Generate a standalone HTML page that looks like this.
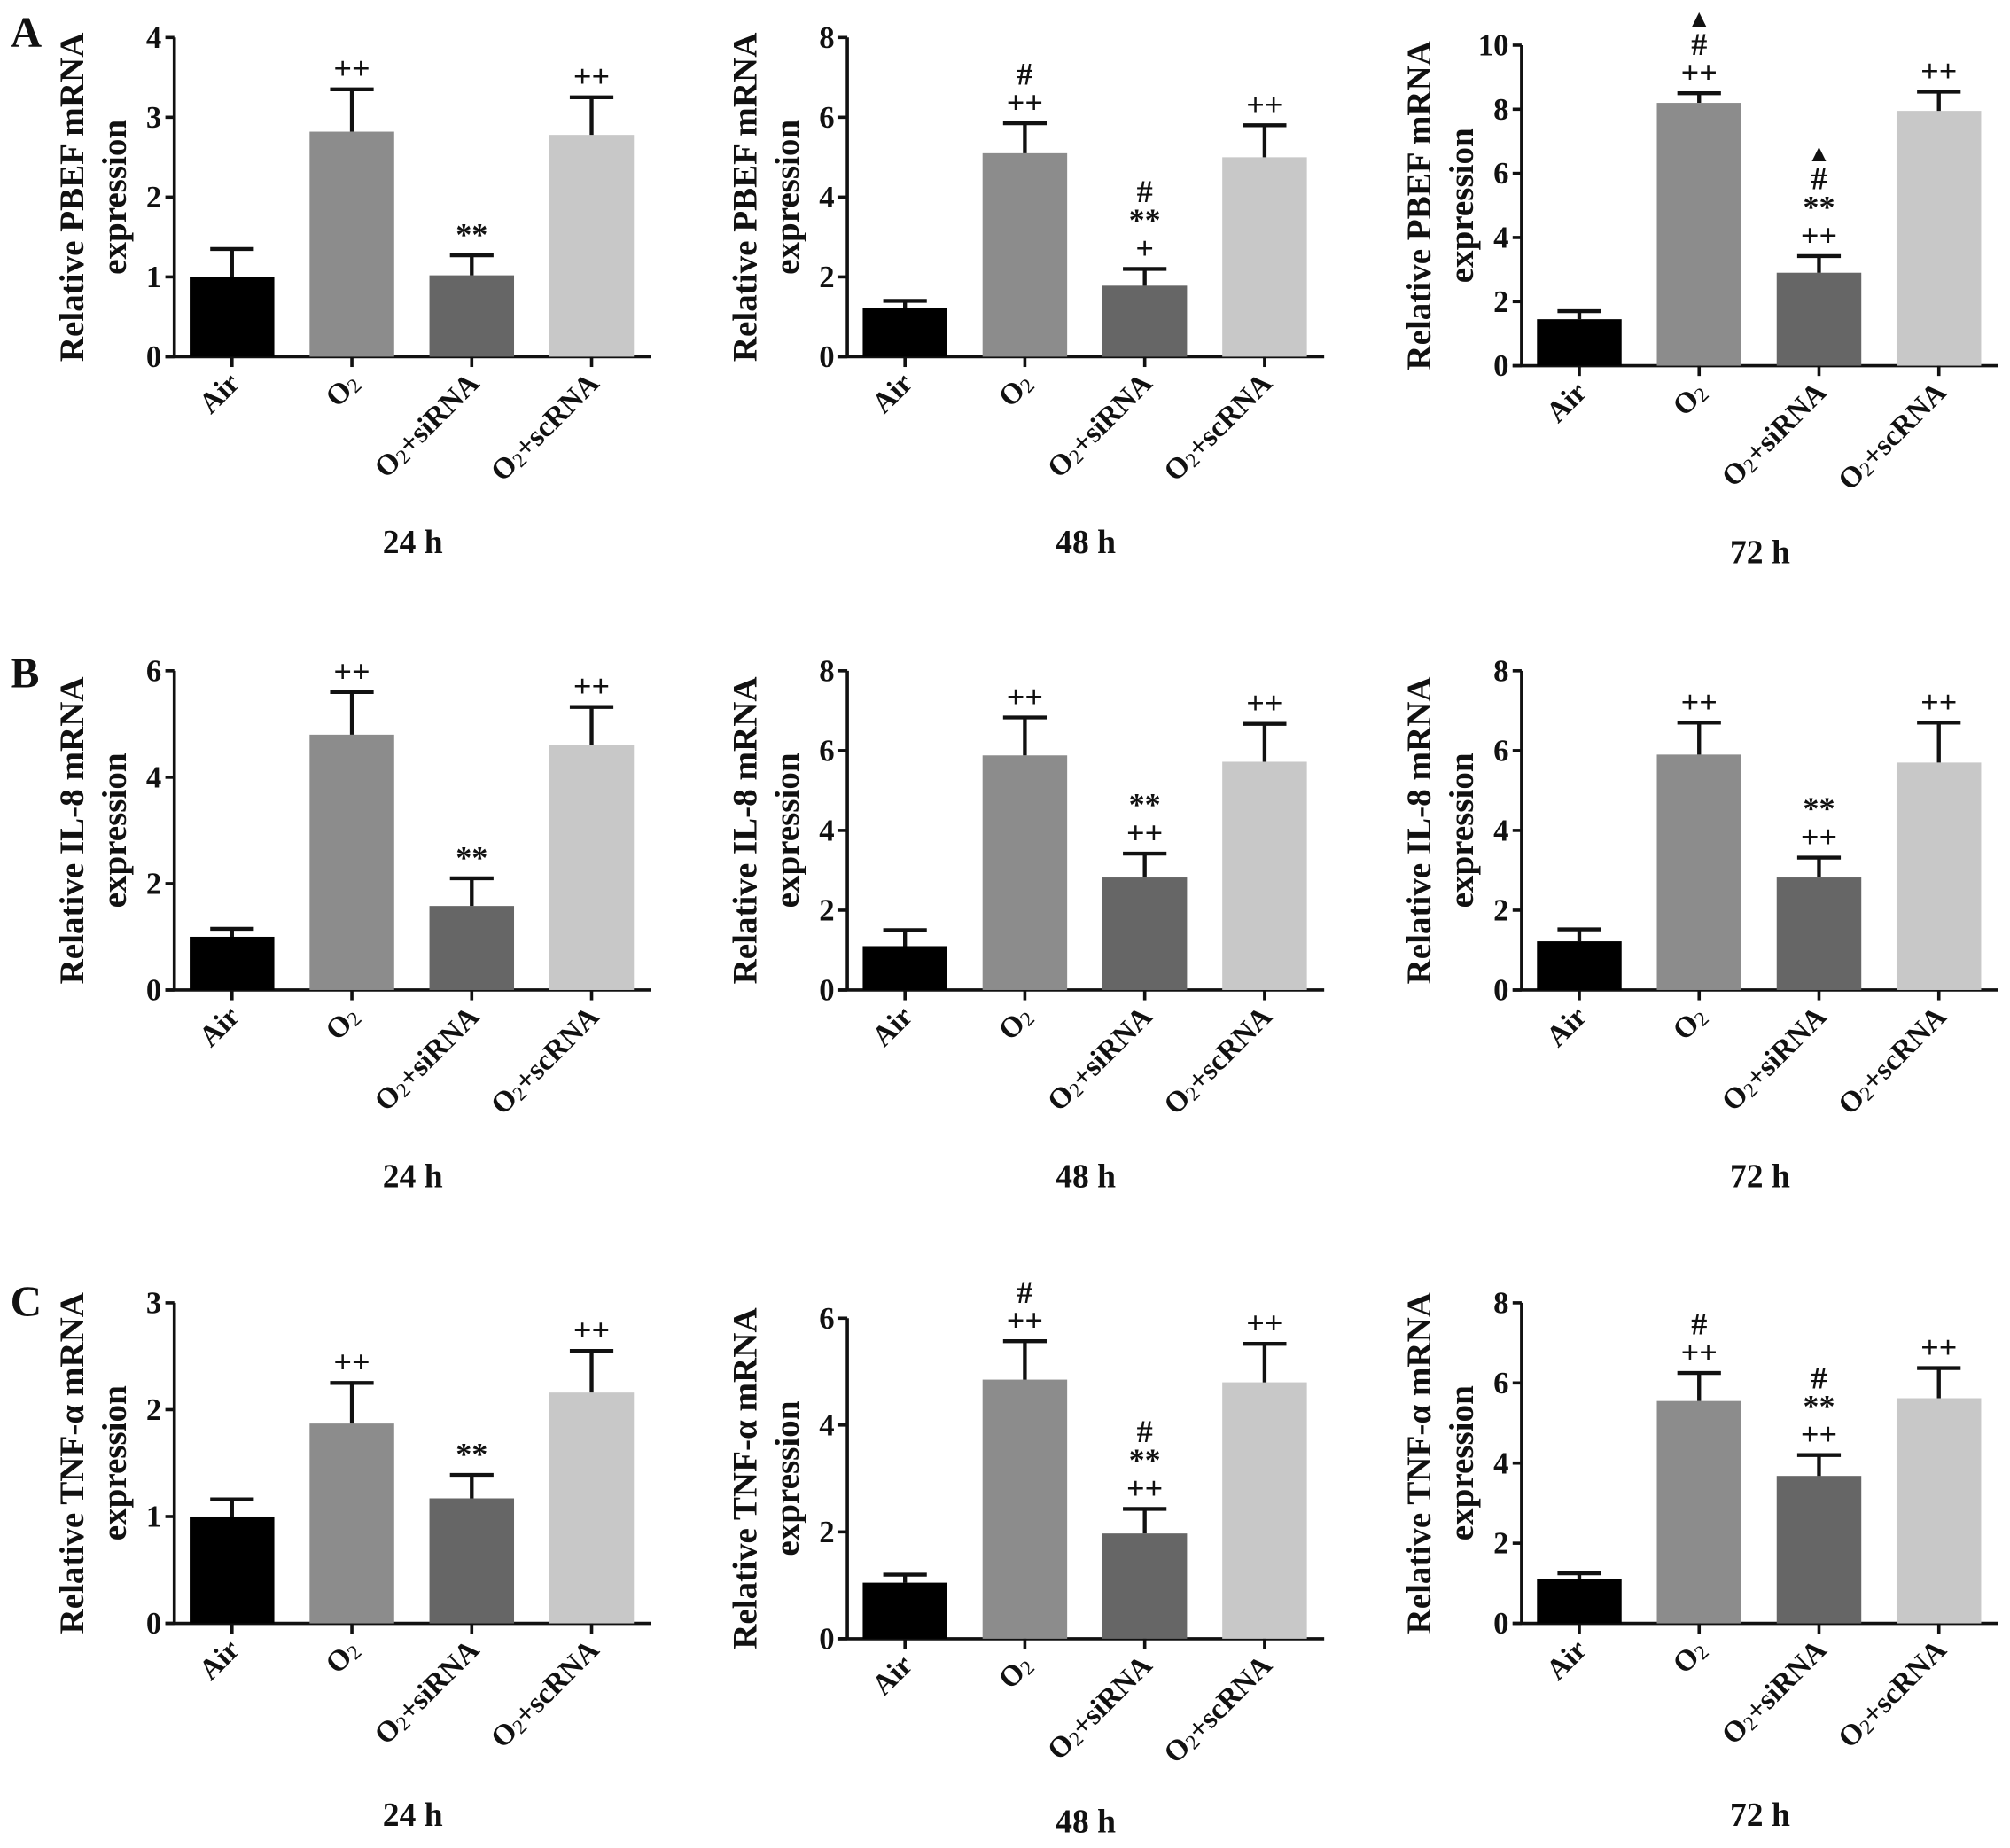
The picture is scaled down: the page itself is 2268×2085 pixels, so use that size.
<!DOCTYPE html>
<html><head><meta charset="utf-8"><style>
html,body{margin:0;padding:0;background:#fff}
svg{display:block}
text{font-family:"Liberation Serif",serif;font-weight:bold;fill:#111}
</style></head><body>
<svg id="fig" width="2268" height="2085" viewBox="0 0 1568 1441" xmlns="http://www.w3.org/2000/svg"></svg>
<script>
const categories = ["Air","O2","O2+siRNA","O2+scRNA"];
const panelTitles = ["Relative PBEF mRNA","Relative PBEF mRNA","Relative PBEF mRNA","Relative IL-8 mRNA","Relative IL-8 mRNA","Relative IL-8 mRNA","Relative TNF-\u03b1 mRNA","Relative TNF-\u03b1 mRNA","Relative TNF-\u03b1 mRNA"];
const timeLabels = ["24 h","48 h","72 h","24 h","48 h","72 h","24 h","48 h","72 h"];
const yMax = [4,8,10,6,8,8,3,6,8];
const yStep = [1,2,2,2,2,2,1,2,2];
const means = [
 [1.0,2.82,1.02,2.78],[1.22,5.1,1.78,5.0],[1.45,8.2,2.9,7.95],
 [1.0,4.8,1.58,4.6],[1.1,5.88,2.82,5.72],[1.22,5.9,2.82,5.7],
 [1.0,1.87,1.17,2.16],[1.05,4.85,1.97,4.8],[1.1,5.55,3.68,5.62]];
const errors = [
 [0.35,0.53,0.25,0.47],[0.18,0.75,0.42,0.8],[0.25,0.3,0.52,0.6],
 [0.15,0.8,0.52,0.72],[0.4,0.95,0.6,0.95],[0.3,0.8,0.5,1.0],
 [0.16,0.38,0.22,0.39],[0.15,0.72,0.46,0.72],[0.15,0.7,0.52,0.75]];
const annots = [
 [[],["++"],["**"],["++"]],
 [[],["#","++"],["#","**","+"],["++"]],
 [[],["\u25b2","#","++"],["\u25b2","#","**","++"],["++"]],
 [[],["++"],["**"],["++"]],
 [[],["++"],["**","++"],["++"]],
 [[],["++"],["**","++"],["++"]],
 [[],["++"],["**"],["++"]],
 [[],["#","++"],["#","**","++"],["++"]],
 [[],["#","++"],["#","**","++"],["++"]]];
const colors=["#000","#8c8c8c","#666","#c8c8c8"];
const axX=[136,661,1187];
const rows=[[[29,278],[29,278],[35,285]],[[523,772],[523,772],[523,772]],[[1016,1266],[1028,1278],[1016,1266]]];
const timeY=[[422,422,430],[917,917,917],[1415,1420,1415]];
const letters=["A","B","C"], letterY=[36,536,1026];
const svg=document.getElementById('fig');
const NS="http://www.w3.org/2000/svg";
function mk(tag,attrs,parent){const e=document.createElementNS(NS,tag);for(const k in attrs)e.setAttribute(k,attrs[k]);(parent||svg).appendChild(e);return e;}
letters.forEach((L,i)=>{const t=mk('text',{x:8,y:letterY[i],'font-size':34});t.textContent=L;

});
for(let p=0;p<9;p++){
 const r=Math.floor(p/3),c=p%3;
 const x0=axX[c],top=rows[r][c][0],zero=rows[r][c][1];
 const g=mk('g',{});
 
 
 const ys=v=>zero-(v/yMax[p])*(zero-top);
 const xs=i=>x0+45+i*93.5;
 const ya=mk('line',{x1:x0,y1:top,x2:x0,y2:zero+1,stroke:'#111','stroke-width':2.5},g);
 
 const xa=mk('line',{x1:x0-7,y1:zero,x2:x0+372,y2:zero,stroke:'#111','stroke-width':2.5},g);
 
 for(let v=0;v<=yMax[p]+1e-9;v+=yStep[p]){
  mk('line',{x1:x0-7,y1:ys(v),x2:x0,y2:ys(v),stroke:'#111','stroke-width':2.5},g);
  const t=mk('text',{x:x0-10,y:ys(v)+8,'font-size':24,'text-anchor':'end'},g);t.textContent=v;
  
 }
 const cy=(top+zero)/2;
 const t1=mk('text',{transform:`translate(${x0-71},${cy}) rotate(-90)`,'font-size':27,'text-anchor':'middle'},g);t1.textContent=panelTitles[p];
 
 const t2=mk('text',{transform:`translate(${x0-38},${cy}) rotate(-90)`,'font-size':27,'text-anchor':'middle'},g);t2.textContent='expression';
 
 categories.forEach((cat,i)=>{
  const cx=xs(i),m=means[p][i],e=errors[p][i];
  const b=mk('rect',{x:cx-33,y:ys(m),width:66,height:zero-ys(m),fill:colors[i]},g);
  
  
  const eb=mk('path',{d:`M${cx},${ys(m)}V${ys(m+e)}M${cx-17},${ys(m+e)}H${cx+17}`,stroke:'#111','stroke-width':3,fill:'none'},g);
  
  mk('line',{x1:cx,y1:zero,x2:cx,y2:zero+8,stroke:'#111','stroke-width':2.5},g);
  const an=annots[p][i];
  an.forEach((s,k)=>{const yy=ys(m+e)-8-(an.length-1-k)*22;
   const at=mk('text',{x:cx,y:yy,'font-size':s==='\u25b2'?19:25,'text-anchor':'middle'},g);at.textContent=s;
   });
  const lt=mk('text',{transform:`translate(${cx+7},${zero+22}) rotate(-45)`,'font-size':23,'text-anchor':'end'},g);
  if(cat.startsWith('O2')){lt.textContent='O';const s=mk('tspan',{'font-size':16,'font-weight':'normal',dy:2},lt);s.textContent='2';
   if(cat.length>2){const s2=mk('tspan',{dy:-2},lt);s2.textContent=cat.slice(2);}}
  else lt.textContent=cat;
  
 });
 const tl=mk('text',{x:x0+186,y:timeY[r][c]+9,'font-size':26,'text-anchor':'middle'},g);tl.textContent=timeLabels[p];
 
}
</script>
</body></html>
